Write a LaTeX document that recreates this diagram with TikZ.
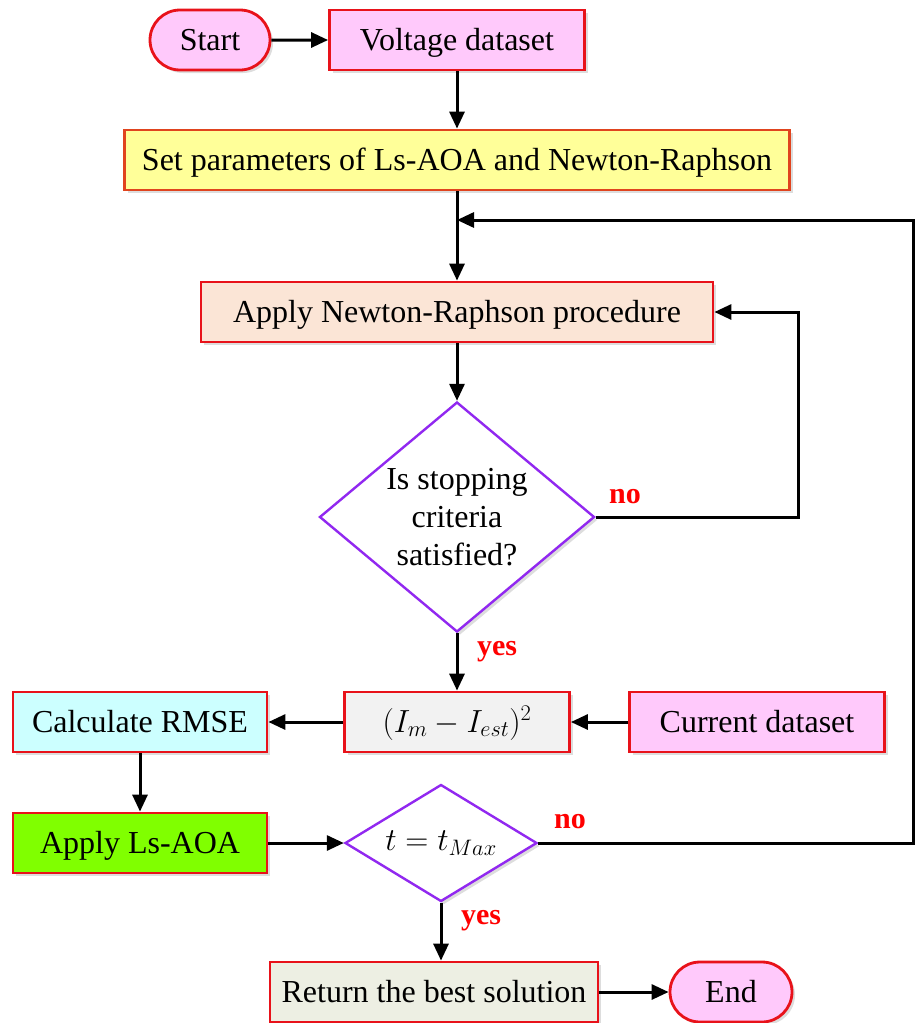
\RequirePackage{fix-cm}
\documentclass[tikz,border=0pt]{standalone}
\usepackage{fontspec}
\setmainfont{Liberation Serif}
\usetikzlibrary{arrows.meta,shapes.geometric,shapes.misc,shadows}

\definecolor{pinkfill}{HTML}{FFC9FB}
\definecolor{boxred}{HTML}{E8121A}
\definecolor{setred}{HTML}{E0441E}
\definecolor{yellowfill}{HTML}{FFFF99}
\definecolor{peachfill}{HTML}{FBE5D6}
\definecolor{grayfill}{HTML}{F2F2F2}
\definecolor{cyanfill}{HTML}{CCFFFF}
\definecolor{greenfill}{HTML}{80FF00}
\definecolor{retfill}{HTML}{EDEFE3}
\definecolor{diapurple}{HTML}{9128F0}
\definecolor{lblred}{HTML}{FF0000}

\tikzset{
  txt/.style={font=\fontsize{32}{38}\selectfont},
  shd/.style={drop shadow={shadow xshift=3pt,shadow yshift=-3pt,opacity=0.22,fill=black!60}},
  procbox/.style={txt, shd, rectangle, draw=boxred, line width=2.8pt, inner sep=0pt,
    minimum height=60, text height=24pt, text depth=4pt, align=center},
  termbox/.style={txt, shd, rounded rectangle, draw=boxred, line width=2.8pt, fill=pinkfill,
    inner sep=0pt, minimum height=60, text height=24pt, text depth=4pt},
  decbox/.style={shd, diamond, draw=diapurple, line width=2.4pt, fill=white, inner sep=0pt},
  flow/.style={line width=3pt, black},
  arr/.style={flow, -{Triangle[length=17pt,width=15pt]}},
  lbl/.style={font=\fontsize{30}{34}\selectfont\bfseries, text=lblred},
}

\begin{document}
\begin{tikzpicture}[x=1pt,y=-1pt]
\useasboundingbox (0,0) rectangle (916,1023);

% top row
\node[termbox, minimum width=120] (start) at (210,40) {Start};
\node[procbox, fill=pinkfill, minimum width=255] (volt) at (457,40) {Voltage dataset};
\node[procbox, fill=yellowfill, draw=setred, minimum width=665] (setp) at (457,160) {Set parameters of Ls-AOA and Newton-Raphson};

% Newton-Raphson inner loop
\node[procbox, fill=peachfill, minimum width=512] (nr) at (457,312) {Apply Newton-Raphson procedure};
\node[decbox, minimum width=275, minimum height=230] (d1) at (457,517) {};
\node[txt, align=center] (d1t) at (457,517) {Is stopping\\criteria\\satisfied?};

% middle row
\node[procbox, fill=grayfill, minimum width=225] (err) at (457,722) {$(I_m - I_{est})^2$};
\node[procbox, fill=pinkfill, minimum width=255] (cur) at (757,722) {Current dataset};
\node[procbox, fill=cyanfill, minimum width=254] (rmse) at (140,722) {Calculate RMSE};

% Ls-AOA iteration
\node[procbox, fill=greenfill, minimum width=254] (aoa) at (140,843) {Apply Ls-AOA};
\node[decbox, minimum width=192, minimum height=117] (d2) at (441,843) {};
\node[txt] (d2t) at (441,843) {$t = t_{Max}$};

% bottom row
\node[procbox, fill=retfill, minimum width=328] (ret) at (434,992) {Return the best solution};
\node[termbox, minimum width=122] (endn) at (731,992) {End};

% helper points for the loops
\coordinate (join) at (457,220);
\coordinate (outerR) at (913,220);
\coordinate (innerR) at (798,517);

% connectors
\draw[arr] (start) -- (volt);
\draw[arr] (volt) -- (setp);
\draw[arr] (setp) -- (nr);
\draw[arr] (nr) -- (d1);
\draw[arr] (d1.east) -- (innerR) |- (nr.east);
\draw[arr] (d1) -- (err);
\draw[arr] (cur) -- (err);
\draw[arr] (err) -- (rmse);
\draw[arr] (rmse) -- (aoa);
\draw[arr] (aoa) -- (d2);
\draw[arr] (d2.east) -| (outerR) -- (join);
\draw[arr] (d2.south) -- (d2.south |- ret.north);
\draw[arr] (ret) -- (endn);

% branch labels
\node[lbl] (no1) at (625,497) {no};
\node[lbl] (yes1) at (497,652) {yes};
\node[lbl] (no2) at (570,822) {no};
\node[lbl] (yes2) at (481,921) {yes};
\end{tikzpicture}
\end{document}
